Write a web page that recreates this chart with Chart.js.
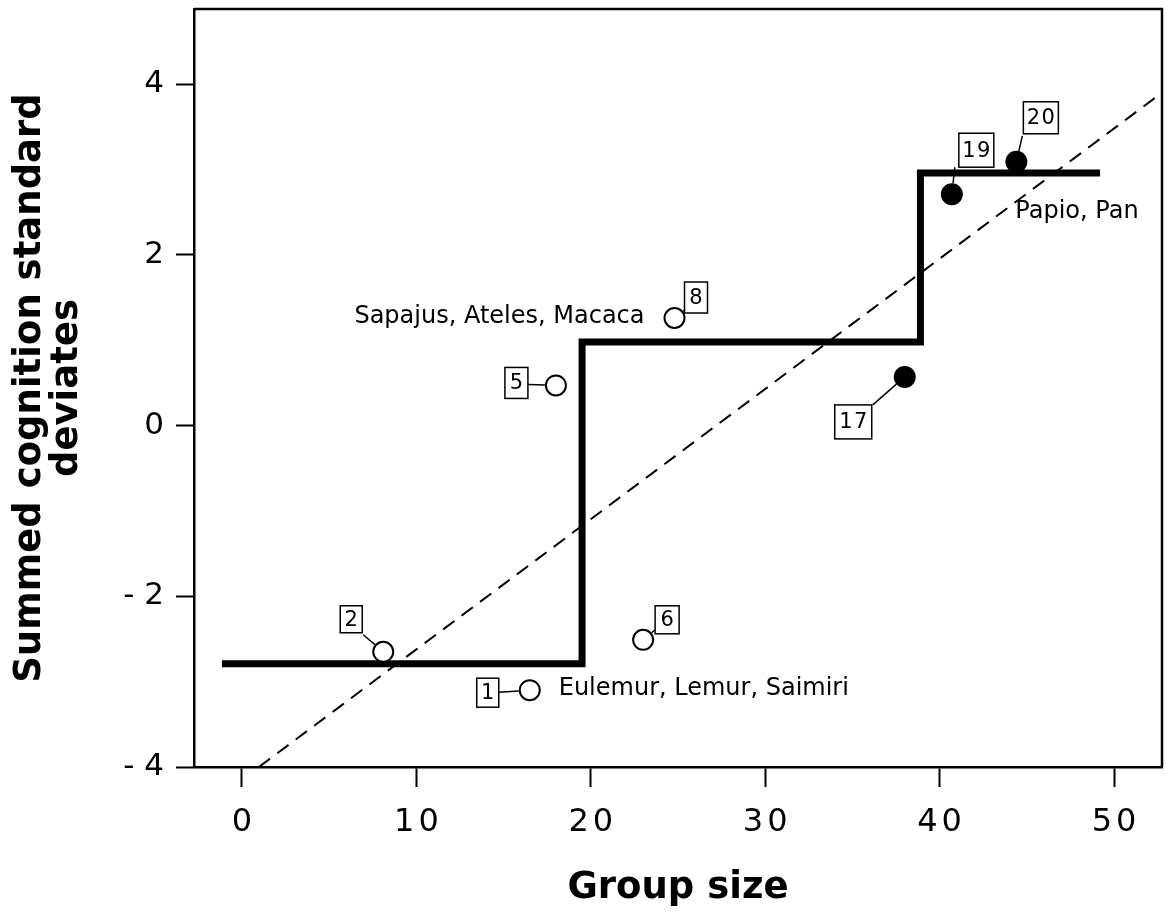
<!DOCTYPE html>
<html><head><meta charset="utf-8">
<script src="https://cdn.jsdelivr.net/npm/chart.js@4.4.1/dist/chart.umd.min.js"></script>
<style>html,body{margin:0;padding:0;background:#fff;}#wrap{width:1166px;height:920px;}</style>
</head><body><div id="wrap"><canvas id="c" width="1166" height="920"></canvas></div>
<script>
// ---- data ----
const speciesIds = ['1', '2', '5', '6', '8', '17', '19', '20'];
const groupSize  = [16.5, 8.1, 18.0, 23.0, 24.8, 38.0, 40.7, 44.4];
const cognition  = [-3.10, -2.65, 0.47, -2.51, 1.26, 0.57, 2.71, 3.09];
const isFilled   = [false, false, false, false, false, true, true, true];

const stepX = [-1.15, 19.5, 19.5, 38.9, 38.9, 49.2];
const stepY = [-2.79, -2.79, 0.98, 0.98, 2.96, 2.96];

const fitX = [0.97, 52.75];
const fitY = [-4.0, 3.9];

const xTicks = [0, 10, 20, 30, 40, 50];
const yTicks = [-4, -2, 0, 2, 4];

const groupNameIds = ['1', '8', '20'];
const groupNames   = ['Eulemur, Lemur, Saimiri', 'Sapajus, Ateles, Macaca', 'Papio, Pan'];

// ---- annotation layout (pixel offsets relative to each point) ----
const tagLayout = {
  '1':  {box: [-53, -12, 22, 29], lead: [-31, 2]},
  '2':  {box: [-43, -46, 22, 27], lead: [-20, -17]},
  '5':  {box: [-51, -18, 23, 31], lead: [-28, -1]},
  '6':  {box: [12, -34, 24, 28],  lead: [12, -10]},
  '8':  {box: [10, -36, 23, 31],  lead: [10, -8]},
  '17': {box: [-70, 28, 37, 34],  lead: [-32, 28]},
  '19': {box: [7, -61, 35, 34],   lead: [3, -27]},
  '20': {box: [7, -60, 35, 32],   lead: [6, -26]}
};
const nameLayout = {
  '1':  {dx: 29, dy: -1, align: 'left'},
  '8':  {dx: -30, dy: -1, align: 'right'},
  '20': {dx: -1, dy: 50, align: 'left'}
};

const FONT = '"DejaVu Sans", Verdana, sans-serif';
const X_LETTER_SPACING = 4;

const pts = (xs, ys) => xs.map((x, i) => ({x: x, y: ys[i]}));
const openPts = [], fillPts = [];
groupSize.forEach((x, i) => (isFilled[i] ? fillPts : openPts).push({x: x, y: cognition[i], id: speciesIds[i]}));

const annotPlugin = {
  id: 'annot',
  afterLayout(chart) {
    const s = chart.scales.x;
    if (!s._wrappedLabels) {
      const orig = s.drawLabels;
      s.drawLabels = function (ca) {
        const ctx = this.ctx;
        const prev = ctx.letterSpacing;
        ctx.letterSpacing = X_LETTER_SPACING + 'px';
        orig.call(this, ca);
        ctx.letterSpacing = prev || '0px';
      };
      s._wrappedLabels = true;
    }
  },
  afterDraw(chart) {
    const ctx = chart.ctx, ca = chart.chartArea;
    const xs = chart.scales.x, ys = chart.scales.y;
    ctx.save();
    ctx.strokeStyle = '#000';
    ctx.lineWidth = 2.5;
    ctx.beginPath();
    ctx.moveTo(ca.left, ca.top);
    ctx.lineTo(ca.right, ca.top);
    ctx.lineTo(ca.right, ca.bottom);
    ctx.stroke();

    const r = 11;
    speciesIds.forEach((id, i) => {
      const px = xs.getPixelForValue(groupSize[i]);
      const py = ys.getPixelForValue(cognition[i]);
      const L = tagLayout[id];
      if (!L) return;
      const lx = px + L.lead[0], ly = py + L.lead[1];
      const d = Math.hypot(lx - px, ly - py);
      if (d > r) {
        const ex = px + (lx - px) / d * r, ey = py + (ly - py) / d * r;
        ctx.beginPath();
        ctx.lineWidth = 1.5;
        ctx.strokeStyle = '#000';
        ctx.moveTo(lx, ly);
        ctx.lineTo(ex, ey);
        ctx.stroke();
      }
      const bx = px + L.box[0], by = py + L.box[1], bw = L.box[2], bh = L.box[3];
      ctx.fillStyle = '#fff';
      ctx.fillRect(bx, by, bw, bh);
      ctx.lineWidth = 1.5;
      ctx.strokeRect(bx, by, bw, bh);
      ctx.fillStyle = '#000';
      ctx.font = '21px ' + FONT;
      ctx.textAlign = 'center';
      ctx.textBaseline = 'middle';
      ctx.letterSpacing = '1.5px';
      ctx.fillText(id, bx + bw / 2 + 0.75, by + bh / 2 + 1);
      ctx.letterSpacing = '0px';
    });

    groupNameIds.forEach((id, k) => {
      const i = speciesIds.indexOf(id);
      const px = xs.getPixelForValue(groupSize[i]);
      const py = ys.getPixelForValue(cognition[i]);
      const N = nameLayout[id];
      ctx.font = '24px ' + FONT;
      ctx.fillStyle = '#000';
      ctx.textAlign = N.align;
      ctx.textBaseline = 'middle';
      ctx.fillText(groupNames[k], px + N.dx, py + N.dy);
    });
    ctx.restore();
  }
};

new Chart(document.getElementById('c'), {
  type: 'scatter',
  data: {
    datasets: [
      {
        label: 'open', data: openPts, order: 0,
        pointRadius: 10, pointHoverRadius: 10,
        pointBackgroundColor: '#fff', pointBorderColor: '#000', pointBorderWidth: 2,
        showLine: false
      },
      {
        label: 'filled', data: fillPts, order: 0,
        pointRadius: 11, pointHoverRadius: 11,
        pointBackgroundColor: '#000', pointBorderColor: '#000', pointBorderWidth: 0,
        showLine: false
      },
      {
        label: 'step', data: pts(stepX, stepY), order: 1,
        showLine: true, pointRadius: 0, borderColor: '#000', borderWidth: 7,
        borderJoinStyle: 'miter', borderCapStyle: 'butt', tension: 0, fill: false
      },
      {
        label: 'fit', data: pts(fitX, fitY), order: 2,
        showLine: true, pointRadius: 0, borderColor: '#000', borderWidth: 2,
        borderDash: [14, 9], tension: 0, fill: false
      }
    ]
  },
  options: {
    responsive: false,
    animation: false,
    devicePixelRatio: 1,
    layout: {autoPadding: false, padding: {top: 9, right: 4, left: 0, bottom: 0}},
    plugins: {legend: {display: false}, tooltip: {enabled: false}},
    scales: {
      x: {
        type: 'linear', min: -2.75, max: 52.75,
        afterBuildTicks: s => { s.ticks = xTicks.map(v => ({value: v})); },
        afterFit: s => { s.height = 153; s.paddingLeft = 0; s.paddingRight = 0; },
        grid: {display: true, drawOnChartArea: false, drawTicks: true, tickLength: 20, tickColor: '#000', tickWidth: 2},
        border: {display: true, color: '#000', width: 2.5},
        ticks: {color: '#000', font: {family: FONT, size: 32}, padding: 16, maxRotation: 0, labelOffset: 2},
        title: {display: true, text: 'Group size', color: '#000', font: {family: FONT, size: 37, weight: 'bold', lineHeight: 1.0}, padding: {top: 0, bottom: 13}}
      },
      y: {
        type: 'linear', min: -4, max: 4.88,
        afterBuildTicks: s => { s.ticks = yTicks.map(v => ({value: v})); },
        afterFit: s => { s.width = 194; s.paddingTop = 0; s.paddingBottom = 0; },
        grid: {display: true, drawOnChartArea: false, drawTicks: true, tickLength: 18, tickColor: '#000', tickWidth: 2},
        border: {display: true, color: '#000', width: 2.5},
        ticks: {color: '#000', font: {family: FONT, size: 31}, padding: 12,
          callback: v => (v < 0 ? '- ' + Math.abs(v) : String(v))},
        title: {display: true, text: ['Summed cognition standard', 'deviates'], color: '#000',
          font: {family: FONT, size: 37, weight: 'bold', lineHeight: 1.0}, padding: {top: 12, bottom: 0}}
      }
    }
  },
  plugins: [annotPlugin]
});
</script>
</body></html>
